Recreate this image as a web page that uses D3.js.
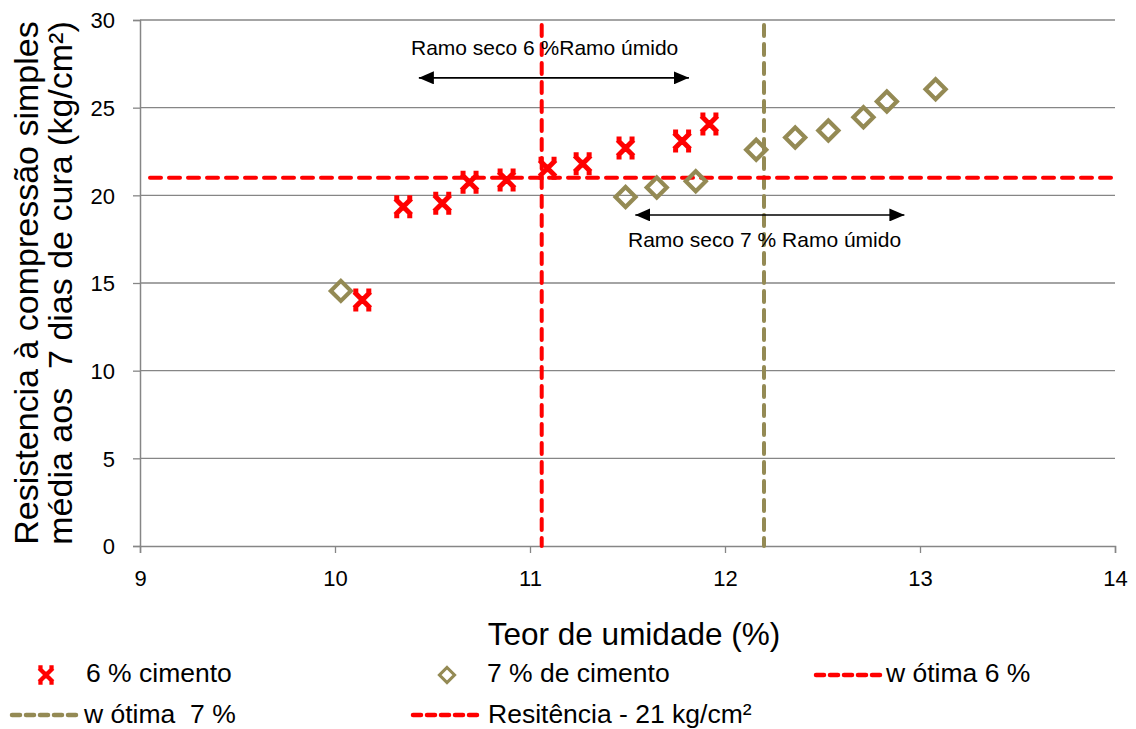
<!DOCTYPE html>
<html><head><meta charset="utf-8">
<script src="https://cdn.jsdelivr.net/npm/d3@7"></script>
<style>
body{margin:0;background:#fff;}
text{font-family:"Liberation Sans",Arial,sans-serif;fill:#000;white-space:pre;}
</style></head>
<body><svg id="c" width="1136" height="729"></svg>
<script>
// Data
const cem6X = [10.14, 10.35, 10.55, 10.69, 10.88, 11.09, 11.27, 11.49, 11.78, 11.92];
const cem6Y = [14.03, 19.35, 19.55, 20.75, 20.88, 21.55, 21.8, 22.7, 23.1, 24.07];
const cem7X = [10.03, 11.49, 11.65, 11.85, 12.16, 12.36, 12.53, 12.71, 12.83, 13.08];
const cem7Y = [14.55, 19.9, 20.45, 20.8, 22.6, 23.3, 23.7, 24.45, 25.35, 26.05];
const wOtima6 = 11.06;
const wOtima7 = 12.2;
const resist = 21;
const xTicks = [9, 10, 11, 12, 13, 14];
const yTicks = [0, 5, 10, 15, 20, 25, 30];
const legendLabels = ["6 % cimento", "7 % de cimento", "w ótima 6 %", "w ótima  7 %", "Resitência - 21 kg/cm²"];
const arrow6 = [10.43, 11.815, 26.7];
const arrow7 = [11.54, 12.92, 18.88];
const annot = ["Ramo seco 6 %Ramo úmido", "Ramo seco 7 % Ramo úmido"];

const RED = "#FF0000", OLIVE = "#948A54", GRID = "#868686";
const svg = d3.select("#c");
const x = d3.scaleLinear().domain([9, 14]).range([140, 1115]);
const y = d3.scaleLinear().domain([0, 30]).range([546, 20]);

// gridlines
svg.append("g").selectAll("line").data(yTicks.filter(d => d > 0)).join("line")
  .attr("x1", x(9)).attr("x2", x(14)).attr("y1", d => y(d)).attr("y2", d => y(d))
  .attr("stroke", GRID).attr("stroke-width", 1.3);

// axes
const xAxis = svg.append("g").attr("transform", `translate(0,${y(0)})`)
  .call(d3.axisBottom(x).tickValues(xTicks).tickSize(7).tickPadding(17).tickFormat(d3.format("d")));
const yAxis = svg.append("g").attr("transform", `translate(${x(9)},0)`)
  .call(d3.axisLeft(y).tickValues(yTicks).tickSize(7).tickPadding(18).tickFormat(d3.format("d")));
[xAxis, yAxis].forEach(a => {
  a.select(".domain").attr("stroke", GRID).attr("stroke-width", 1.5);
  a.selectAll(".tick line").attr("stroke", GRID).attr("stroke-width", 1.3);
  a.selectAll(".tick text").attr("font-size", 22).attr("font-family", "Liberation Sans, Arial, sans-serif").attr("fill", "#000");
});
yAxis.selectAll(".tick text").attr("dy", "0.36em");

const dash = "11,8";
// reference lines
svg.append("line").attr("x1", x(wOtima6)).attr("x2", x(wOtima6)).attr("y1", 25).attr("y2", y(0))
  .attr("stroke", RED).attr("stroke-width", 4).attr("stroke-dasharray", dash).attr("stroke-linecap", "round");
svg.append("line").attr("x1", x(wOtima7)).attr("x2", x(wOtima7)).attr("y1", 25).attr("y2", y(0))
  .attr("stroke", OLIVE).attr("stroke-width", 4).attr("stroke-dasharray", dash).attr("stroke-linecap", "round");
svg.append("line").attr("x1", x(9) + 10).attr("x2", x(14) + 2).attr("y1", y(resist)).attr("y2", y(resist))
  .attr("stroke", RED).attr("stroke-width", 4).attr("stroke-dasharray", dash).attr("stroke-linecap", "round");

// marker shapes
function xMarker(g) {
  g.append("path").attr("d", "M-8,-8L8,8M8,-8L-8,8M0,-4L0,4M-9,-9L-4,-9M4,-9L9,-9M-9,9L-4,9M4,9L9,9")
    .attr("stroke", RED).attr("stroke-width", 5).attr("fill", "none");
}
function diamond(g) {
  g.append("path").attr("d", "M0,-10L10,0L0,10L-10,0Z")
    .attr("stroke", OLIVE).attr("stroke-width", 4.2).attr("fill", "none");
}

const d6 = cem6X.map((v, i) => [v, cem6Y[i]]);
const d7 = cem7X.map((v, i) => [v, cem7Y[i]]);
svg.append("g").selectAll("g").data(d7).join("g")
  .attr("transform", d => `translate(${x(d[0])},${y(d[1])})`).each(function(){ diamond(d3.select(this)); });
svg.append("g").selectAll("g").data(d6).join("g")
  .attr("transform", d => `translate(${x(d[0])},${y(d[1])})`).each(function(){ xMarker(d3.select(this)); });

// arrows
const defs = svg.append("defs");
defs.append("marker").attr("id", "ah").attr("viewBox", "0 0 15 13").attr("refX", 15).attr("refY", 6.5)
  .attr("markerWidth", 15).attr("markerHeight", 13).attr("markerUnits", "userSpaceOnUse").attr("orient", "auto-start-reverse")
  .append("path").attr("d", "M0,0L15,6.5L0,13Z").attr("fill", "#000");
function arrow(a) {
  svg.append("line").attr("x1", x(a[0])).attr("x2", x(a[1])).attr("y1", y(a[2])).attr("y2", y(a[2]))
    .attr("stroke", "#000").attr("stroke-width", 1.6)
    .attr("marker-start", "url(#ah)").attr("marker-end", "url(#ah)");
}
arrow(arrow6);
arrow(arrow7);
svg.append("text").attr("x", 411).attr("y", 55).attr("font-size", 21).text(annot[0]);
svg.append("text").attr("x", 628).attr("y", 247).attr("font-size", 21).text(annot[1]);

// axis titles
svg.append("text").attr("x", 634).attr("y", 645).attr("text-anchor", "middle").attr("font-size", 31.5).text("Teor de umidade (%)");
const yt = svg.append("text").attr("transform", "translate(0,283) rotate(-90)").attr("text-anchor", "middle").attr("font-size", 34);
yt.append("tspan").attr("x", 0).attr("y", 38).text("Resistencia à compressão simples");
yt.append("tspan").attr("x", 0).attr("y", 72).text("média aos  7 dias de cura (kg/cm²)");

// legend
const lg = svg.append("g");
const r1 = 675, r2 = 715, fs = 26.5;
xMarker(lg.append("g").attr("transform", `translate(46,${r1}) scale(0.85)`));
lg.append("text").attr("x", 86).attr("y", 682).attr("font-size", fs).text(legendLabels[0]);
diamond(lg.append("g").attr("transform", `translate(447,${r1}) scale(0.75)`));
lg.append("text").attr("x", 487).attr("y", 682).attr("font-size", fs).text(legendLabels[1]);
function legLine(x1, x2, yy, col) {
  lg.append("line").attr("x1", x1).attr("x2", x2).attr("y1", yy).attr("y2", yy)
    .attr("stroke", col).attr("stroke-width", 4.5).attr("stroke-dasharray", "8,6").attr("stroke-linecap", "round");
}
legLine(816, 882, r1, RED);
lg.append("text").attr("x", 886).attr("y", 682).attr("font-size", fs).text(legendLabels[2]);
legLine(12, 80, r2, OLIVE);
lg.append("text").attr("x", 84).attr("y", 723).attr("font-size", fs).text(legendLabels[3]);
legLine(413, 481, r2, RED);
lg.append("text").attr("x", 488).attr("y", 723).attr("font-size", fs).text(legendLabels[4]);
</script></body></html>
